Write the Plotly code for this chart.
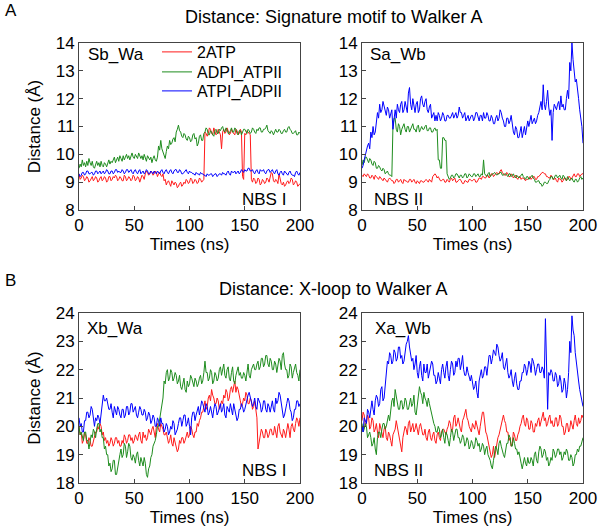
import plotly.graph_objects as go

# ---------------- data ----------------
times = list(range(0, 201))  # ns, 1 ns sampling

series_names = ["2ATP", "ADPI_ATPII", "ATPI_ADPII"]

# Panel A left: Sb_Wa
sbwa_2atp = [
    9.3, 9.1, 9.15, 9.25, 9.2, 9.05, 9.1, 9.2, 9.15, 9.0,
    9.05, 9.15, 9.2, 9.05, 9.1, 9.2, 9.15, 9.0, 9.05, 9.15,
    9.2, 9.05, 9.1, 9.2, 9.15, 9.0, 9.05, 9.2, 9.2, 9.05,
    9.1, 9.2, 9.15, 9.25, 9.2, 9.05, 9.1, 9.2, 9.15, 9.05,
    9.05, 9.25, 9.2, 9.05, 9.1, 9.2, 9.15, 9.05, 9.1, 9.25,
    9.2, 9.05, 9.1, 9.2, 9.15, 9.0, 9.1, 9.25, 9.2, 9.1,
    9.3, 9.4, 9.35, 9.25, 9.3, 9.4, 9.35, 9.25, 9.3, 9.4,
    9.35, 9.2, 9.3, 9.35, 9.25, 9.2, 9.3, 9.05, 9.1, 8.9,
    9.0, 9.05, 8.95, 8.85, 9.05, 8.95, 8.9, 9.0, 8.95, 8.8,
    8.85, 8.95, 9.0, 8.85, 8.9, 9.0, 8.95, 9.1, 9.05, 8.95,
    9.0, 9.15, 9.1, 8.95, 9.0, 9.1, 9.05, 8.95, 9.0, 9.15,
    9.1, 9.0, 9.05, 9.1, 10.8, 10.75, 10.65, 10.75, 10.95, 10.9,
    10.75, 10.7, 10.95, 10.85, 10.7, 10.75, 10.9, 10.8, 10.7, 10.2,
    10.8, 10.9, 10.75, 10.8, 10.95, 10.85, 10.7, 10.75, 10.9, 10.8,
    10.75, 10.7, 10.9, 10.85, 10.7, 10.75, 10.9, 10.8, 9.2, 9.1,
    10.75, 10.7, 10.85, 10.8, 10.75, 10.7, 9.1, 9.0, 9.15, 9.1,
    8.95, 9.0, 9.15, 9.1, 8.9, 8.95, 9.1, 9.05, 8.95, 9.0,
    9.15, 9.1, 9.0, 9.2, 9.35, 9.3, 9.05, 9.0, 9.1, 9.05,
    8.95, 9.3, 9.1, 8.95, 8.9, 9.0, 8.85, 8.9, 9.0, 9.05,
    8.95, 9.0, 9.15, 9.1, 8.9, 8.95, 9.05, 9.0, 8.85, 8.9,
    8.95]
sbwa_adpi = [
    9.5, 9.65, 9.55, 9.8, 9.6, 9.7, 9.55, 9.75, 9.6, 9.85,
    9.7, 9.6, 9.75, 9.55, 9.5, 9.65, 9.75, 9.6, 9.7, 9.55,
    9.75, 9.6, 9.55, 9.7, 9.65, 9.55, 9.7, 9.8, 9.65, 9.75,
    9.7, 9.85, 9.9, 9.7, 9.8, 9.9, 9.75, 9.95, 9.85, 9.75,
    9.95, 9.8, 9.9, 10.0, 9.85, 9.95, 9.8, 9.9, 10.05, 9.9,
    9.85, 10.0, 9.9, 9.85, 10.05, 9.95, 9.85, 9.95, 9.8, 10.0,
    9.85, 9.75, 9.95, 9.85, 9.8, 9.9, 9.7, 9.85, 9.95, 9.8,
    9.75, 9.9, 10.3, 10.15, 10.5, 10.2, 10.1, 9.95, 9.85, 10.1,
    10.3, 10.2, 10.5, 10.35, 10.4, 10.55, 10.6, 10.45, 10.8, 10.9,
    11.05, 10.85, 10.8, 10.65, 10.6, 10.75, 10.7, 10.55, 10.5, 10.65,
    10.6, 10.45, 10.5, 10.7, 10.75, 10.55, 10.6, 10.3, 10.4, 10.65,
    10.7, 10.5, 10.5, 10.75, 10.8, 10.95, 10.9, 10.7, 10.7, 10.85,
    10.8, 10.7, 10.65, 10.85, 10.9, 10.75, 10.75, 10.9, 10.85, 10.95,
    11.0, 10.85, 10.8, 10.95, 10.9, 10.75, 10.75, 10.85, 10.95, 10.8,
    10.8, 10.95, 10.9, 10.75, 10.7, 10.85, 10.85, 10.7, 10.8, 10.9,
    10.9, 10.8, 10.75, 10.9, 10.85, 10.75, 10.8, 10.95, 10.9, 10.8,
    10.75, 10.9, 10.85, 10.95, 10.95, 10.8, 10.8, 10.9, 10.9, 10.95,
    11.05, 10.85, 10.8, 10.75, 10.85, 10.8, 10.7, 10.85, 10.9, 10.8,
    10.8, 10.9, 10.85, 10.75, 10.75, 10.85, 10.9, 10.8, 10.8, 10.95,
    11.0, 10.9, 10.85, 10.75, 10.75, 10.8, 10.85, 10.7, 10.7, 10.8,
    10.75]
sbwa_atpi = [
    9.3, 9.2, 9.25, 9.35, 9.35, 9.25, 9.3, 9.4, 9.4, 9.3,
    9.3, 9.35, 9.35, 9.25, 9.3, 9.4, 9.4, 9.3, 9.35, 9.4,
    9.3, 9.35, 9.4, 9.3, 9.35, 9.45, 9.4, 9.3, 9.3, 9.4,
    9.4, 9.3, 9.35, 9.45, 9.45, 9.35, 9.4, 9.35, 9.35, 9.45,
    9.4, 9.3, 9.35, 9.45, 9.45, 9.35, 9.4, 9.45, 9.35, 9.3,
    9.4, 9.45, 9.35, 9.3, 9.4, 9.45, 9.3, 9.35, 9.4, 9.3,
    9.35, 9.45, 9.4, 9.3, 9.3, 9.4, 9.35, 9.3, 9.4, 9.35,
    9.3, 9.4, 9.35, 9.3, 9.4, 9.45, 9.35, 9.3, 9.4, 9.45,
    9.35, 9.3, 9.4, 9.45, 9.35, 9.3, 9.4, 9.45, 9.45, 9.35,
    9.35, 9.45, 9.4, 9.3, 9.3, 9.35, 9.4, 9.45, 9.35, 9.3,
    9.4, 9.35, 9.35, 9.3, 9.3, 9.25, 9.35, 9.3, 9.3, 9.25,
    9.35, 9.3, 9.3, 9.25, 9.25, 9.2, 9.3, 9.25, 9.25, 9.3,
    9.3, 9.2, 9.25, 9.3, 9.3, 9.2, 9.25, 9.3, 9.3, 9.25,
    9.35, 9.3, 9.3, 9.25, 9.35, 9.4, 9.3, 9.25, 9.4, 9.35,
    9.35, 9.4, 9.3, 9.35, 9.4, 9.3, 9.35, 9.45, 9.4, 9.35,
    9.45, 9.4, 9.4, 9.5, 9.5, 9.4, 9.4, 9.45, 9.35, 9.3,
    9.4, 9.45, 9.35, 9.3, 9.45, 9.4, 9.4, 9.45, 9.35, 9.3,
    9.4, 9.45, 9.45, 9.35, 9.4, 9.45, 9.35, 9.3, 9.4, 9.45,
    9.3, 9.25, 9.35, 9.4, 9.3, 9.25, 9.4, 9.35, 9.3, 9.25,
    9.35, 9.4, 9.3, 9.25, 9.25, 9.2, 9.35, 9.4, 9.3, 9.25,
    9.35]

# Panel A right: Sa_Wb
sawb_2atp = [
    9.25, 9.2, 9.3, 9.25, 9.2, 9.3, 9.25, 9.15, 9.15, 9.25,
    9.2, 9.1, 9.25, 9.2, 9.15, 9.1, 9.2, 9.15, 9.1, 9.05,
    9.15, 9.1, 9.05, 9.0, 9.1, 9.15, 9.1, 9.05, 9.05, 8.95,
    9.0, 9.1, 9.1, 9.0, 9.05, 9.1, 9.0, 8.95, 9.1, 9.05,
    9.05, 9.0, 9.0, 9.1, 9.1, 9.0, 9.05, 9.1, 9.0, 8.95,
    9.05, 9.0, 8.95, 9.05, 9.05, 9.0, 9.0, 9.05, 9.1, 9.05,
    9.0, 9.1, 9.05, 9.0, 9.2, 9.25, 9.3, 9.25, 9.15, 9.2,
    9.1, 9.05, 9.05, 9.1, 9.1, 9.0, 9.0, 9.1, 9.05, 9.0,
    9.1, 9.15, 9.05, 9.1, 9.15, 9.0, 9.0, 9.05, 9.1, 9.1,
    9.0, 8.95, 8.95, 9.05, 9.05, 9.0, 9.0, 9.1, 9.1, 9.05,
    9.05, 9.1, 9.1, 9.0, 9.0, 9.1, 9.15, 9.15, 9.1, 9.2,
    9.2, 9.15, 9.15, 9.25, 9.25, 9.15, 9.2, 9.3, 9.3, 9.2,
    9.25, 9.3, 9.35, 9.3, 9.3, 9.4, 9.45, 9.35, 9.3, 9.25,
    9.25, 9.35, 9.3, 9.2, 9.2, 9.3, 9.25, 9.15, 9.2, 9.25,
    9.15, 9.1, 9.2, 9.2, 9.1, 9.15, 9.15, 9.1, 9.05, 9.1,
    9.1, 9.15, 9.2, 9.1, 9.15, 9.2, 9.2, 9.1, 9.1, 9.2,
    9.2, 9.25, 9.3, 9.35, 9.35, 9.3, 9.3, 9.2, 9.2, 9.15,
    9.15, 9.25, 9.2, 9.1, 9.1, 9.15, 9.05, 9.0, 9.15, 9.1,
    9.1, 9.0, 9.05, 9.15, 9.15, 9.05, 9.1, 9.2, 9.2, 9.1,
    9.15, 9.25, 9.3, 9.2, 9.2, 9.3, 9.3, 9.2, 9.25, 9.3,
    9.3]
sawb_adpi = [
    9.6, 9.8, 9.7, 9.9, 9.9, 9.75, 9.7, 9.85, 9.8, 9.65,
    9.6, 9.75, 9.7, 9.5, 9.5, 9.6, 9.55, 9.45, 9.4, 9.5,
    9.45, 9.3, 9.35, 9.4, 9.3, 9.25, 9.25, 9.2, 11.0, 11.3,
    11.3, 10.9, 10.8, 11.1, 11.0, 10.7, 10.9, 11.0, 11.1, 10.9,
    10.8, 11.0, 11.0, 10.8, 10.9, 11.0, 11.1, 10.9, 10.9, 10.8,
    11.0, 11.05, 10.8, 10.9, 11.0, 10.9, 10.9, 11.0, 11.05, 10.85,
    10.85, 10.95, 10.95, 10.8, 10.8, 10.9, 10.95, 10.85, 10.9, 9.8,
    9.8, 9.5, 9.5, 10.6, 10.6, 10.5, 10.5, 9.3, 9.2, 9.1,
    9.15, 9.25, 9.25, 9.15, 9.2, 9.3, 9.3, 9.2, 9.15, 9.25,
    9.25, 9.15, 9.2, 9.3, 9.3, 9.15, 9.2, 9.3, 9.25, 9.2,
    9.2, 9.3, 9.3, 9.2, 9.25, 9.3, 9.2, 9.2, 9.3, 9.25,
    9.8, 9.3, 9.25, 9.2, 9.3, 9.35, 9.2, 9.25, 9.3, 9.3,
    9.35, 9.3, 9.25, 9.3, 9.3, 9.35, 9.35, 9.25, 9.25, 9.3,
    9.3, 9.25, 9.2, 9.3, 9.3, 9.2, 9.25, 9.3, 9.2, 9.15,
    9.25, 9.2, 9.15, 9.2, 9.25, 9.3, 9.2, 9.15, 9.1, 9.2,
    9.2, 9.1, 9.15, 9.2, 9.25, 9.15, 9.1, 9.0, 9.0, 9.05,
    9.05, 8.95, 8.95, 8.85, 8.9, 9.0, 9.0, 8.95, 8.95, 9.05,
    9.1, 9.2, 9.2, 9.1, 9.15, 9.25, 9.25, 9.15, 9.2, 9.25,
    9.15, 9.1, 9.25, 9.2, 9.1, 9.05, 9.2, 9.1, 9.05, 9.1,
    9.15, 9.05, 9.0, 9.1, 9.1, 9.0, 9.05, 9.15, 9.2, 9.1,
    9.15]
sawb_atpi = [
    9.5, 9.6, 9.8, 10.0, 10.1, 10.3, 10.4, 10.2, 10.8, 10.6,
    11.0, 10.7, 10.8, 11.2, 11.5, 11.3, 11.8, 11.5, 11.6, 11.9,
    11.7, 11.5, 11.4, 11.7, 11.6, 11.3, 11.5, 11.6, 10.9, 11.4,
    11.6, 11.3, 11.8, 11.6, 11.5, 11.8, 11.9, 11.5, 11.6, 11.9,
    11.7, 11.5, 12.2, 12.4, 11.8, 11.6, 12.0, 11.7, 11.5, 11.8,
    11.9, 11.5, 11.6, 12.0, 12.1, 11.8, 11.7, 11.9, 12.0, 11.6,
    11.5, 11.7, 11.8, 11.3, 11.4, 11.5, 11.2, 11.4, 11.2, 11.5,
    11.4, 11.2, 11.3, 11.5, 11.4, 11.2, 11.2, 11.4, 11.4, 11.3,
    11.3, 11.4, 11.5, 11.3, 11.4, 11.5, 11.3, 11.4, 11.7, 11.5,
    11.5, 11.3, 11.4, 11.5, 11.2, 11.3, 11.4, 11.2, 11.3, 11.4,
    11.4, 11.2, 11.3, 11.5, 11.5, 11.3, 11.2, 11.4, 11.4, 11.2,
    11.5, 11.3, 11.3, 11.5, 11.4, 11.2, 11.2, 11.4, 11.3, 11.1,
    11.1, 11.3, 11.4, 11.2, 11.3, 11.6, 11.5, 11.3, 11.2, 11.0,
    11.0, 11.3, 11.3, 11.1, 11.2, 11.4, 11.0, 10.8, 10.7, 11.0,
    10.9, 10.6, 10.6, 10.9, 11.0, 10.6, 10.8, 11.0, 10.7, 10.9,
    11.2, 11.0, 11.3, 11.4, 11.1, 11.2, 11.3, 11.1, 11.2, 11.4,
    11.5, 11.7, 11.9, 11.6, 12.5, 11.8, 11.6, 11.9, 12.3, 11.7,
    11.4, 11.6, 10.5, 11.5, 11.8, 11.7, 11.6, 11.8, 11.9, 11.6,
    12.1, 11.7, 11.8, 11.6, 11.6, 12.0, 12.3, 12.0, 13.3, 13.0,
    14.0, 13.4, 13.0, 12.6, 12.7, 12.2, 12.0, 11.6, 11.3, 11.0,
    10.4]

# Panel B left: Xb_Wa
xbwa_2atp = [
    20.0, 19.7, 19.8, 19.4, 19.5, 19.8, 19.7, 19.4, 19.4, 19.6,
    19.5, 19.3, 19.3, 19.5, 19.6, 19.8, 19.8, 20.0, 19.9, 20.1,
    20.0, 19.7, 19.8, 19.5, 19.6, 19.4, 19.5, 19.3, 19.4, 19.6,
    19.5, 19.3, 19.4, 19.6, 19.6, 19.4, 19.5, 19.3, 19.3, 19.5,
    19.4, 19.7, 19.6, 19.4, 19.5, 19.7, 19.7, 19.5, 19.6, 19.4,
    19.5, 19.7, 19.6, 19.5, 19.7, 19.8, 19.5, 19.4, 19.8, 19.6,
    19.7, 19.5, 19.6, 19.9, 19.8, 19.7, 19.9, 20.0, 19.8, 19.6,
    20.0, 20.1, 19.9, 19.8, 20.1, 20.0, 19.9, 19.7, 19.7, 19.8,
    19.6, 19.4, 19.5, 19.7, 19.4, 19.3, 19.6, 19.4, 19.3, 19.1,
    19.2, 19.5, 19.4, 19.6, 19.6, 19.4, 19.5, 19.7, 19.8, 19.6,
    19.7, 20.0, 19.9, 19.7, 19.6, 19.8, 19.8, 20.1, 20.0, 20.2,
    20.3, 20.5, 20.5, 20.7, 20.9, 20.6, 20.7, 21.0, 21.1, 20.9,
    21.3, 21.1, 21.0, 20.8, 20.8, 21.0, 20.9, 20.6, 20.7, 20.9,
    20.8, 21.1, 21.0, 21.3, 21.2, 20.9, 21.0, 21.3, 21.4, 21.2,
    21.5, 21.6, 21.2, 21.4, 21.3, 21.0, 20.9, 20.7, 20.8, 21.0,
    20.9, 21.2, 21.1, 20.8, 20.8, 21.0, 20.9, 20.6, 20.7, 20.9,
    20.5, 20.3, 19.2, 19.5, 19.7, 19.9, 19.8, 19.6, 19.6, 19.9,
    19.8, 19.6, 19.7, 19.9, 19.9, 19.7, 19.7, 20.0, 19.8, 19.6,
    20.0, 20.1, 19.8, 19.7, 19.6, 19.9, 19.8, 19.6, 19.9, 20.1,
    19.9, 19.6, 20.0, 20.1, 19.9, 19.8, 20.1, 20.3, 20.2, 20.0,
    20.3]
xbwa_adpi = [
    20.0, 19.7, 19.8, 19.6, 19.5, 19.8, 19.8, 19.5, 19.5, 19.2,
    19.4, 19.7, 19.6, 19.9, 19.8, 19.6, 19.9, 20.1, 20.1, 19.8,
    19.9, 19.6, 19.6, 19.2, 19.3, 19.0, 19.0, 18.6, 18.7, 18.4,
    18.5, 18.8, 18.8, 18.3, 18.3, 18.6, 18.7, 19.0, 19.2, 18.9,
    19.0, 19.4, 19.3, 18.9, 19.1, 19.4, 19.3, 18.9, 18.8, 19.0,
    18.9, 18.7, 19.0, 19.1, 18.8, 18.6, 18.9, 18.7, 18.6, 18.9,
    18.7, 18.3, 18.2, 18.5, 18.6, 18.9, 19.0, 19.3, 19.4, 19.5,
    19.7, 20.0, 20.0, 20.3, 20.4, 20.9, 21.0, 21.6, 21.5, 21.9,
    22.0, 21.6, 21.7, 22.0, 21.9, 21.6, 21.7, 21.9, 21.8, 21.5,
    21.6, 21.8, 21.4, 21.3, 21.5, 21.7, 21.3, 21.2, 21.6, 21.4,
    21.5, 21.8, 21.7, 21.5, 21.4, 21.7, 21.6, 21.4, 21.5, 21.7,
    21.8, 21.5, 21.6, 21.9, 22.3, 21.9, 21.9, 21.6, 21.7, 22.0,
    21.9, 21.5, 21.6, 21.9, 21.8, 21.6, 21.7, 22.0, 22.1, 21.8,
    22.0, 22.2, 21.8, 21.7, 22.0, 22.1, 21.7, 21.6, 21.9, 22.1,
    21.6, 21.5, 21.8, 22.0, 22.1, 21.8, 21.9, 21.7, 21.7, 21.9,
    21.8, 21.6, 22.0, 22.2, 21.8, 21.7, 22.0, 22.1, 22.2, 22.0,
    22.0, 22.2, 22.3, 22.0, 22.1, 22.4, 22.4, 22.1, 22.2, 22.5,
    22.5, 22.2, 22.1, 22.4, 22.3, 22.0, 22.0, 22.3, 22.2, 21.9,
    22.1, 22.4, 22.3, 22.0, 22.5, 22.6, 22.2, 22.0, 22.0, 21.7,
    21.8, 22.2, 22.1, 21.7, 21.9, 22.1, 22.2, 21.9, 21.8, 21.6,
    22.0]
xbwa_atpi = [
    20.3, 20.0, 20.1, 19.8, 19.8, 20.2, 20.2, 20.5, 20.5, 20.3,
    20.4, 20.7, 20.6, 20.2, 20.0, 20.3, 20.2, 20.4, 20.3, 20.1,
    20.5, 20.8, 21.1, 20.9, 20.9, 21.0, 20.8, 20.6, 20.6, 20.8,
    20.5, 20.3, 20.7, 20.5, 20.4, 20.7, 20.6, 20.4, 20.3, 20.6,
    20.6, 20.3, 20.4, 20.7, 20.7, 20.4, 20.5, 20.8, 20.8, 20.5,
    20.6, 20.7, 20.4, 20.3, 20.5, 20.7, 20.6, 20.4, 20.4, 20.6,
    20.5, 20.2, 20.3, 20.5, 20.4, 20.1, 20.2, 20.4, 20.3, 20.0,
    20.0, 20.3, 20.2, 20.0, 20.3, 20.1, 20.1, 19.8, 19.9, 20.1,
    20.0, 19.7, 19.8, 20.0, 19.9, 20.2, 20.1, 19.7, 19.8, 19.9,
    20.1, 20.3, 20.3, 20.0, 20.2, 20.4, 20.4, 20.0, 20.1, 20.3,
    20.0, 19.7, 20.3, 20.5, 20.5, 20.2, 20.4, 20.6, 20.7, 20.4,
    20.6, 20.9, 20.8, 20.6, 20.5, 20.8, 20.7, 20.4, 20.5, 20.7,
    20.4, 20.3, 20.6, 20.8, 20.7, 20.4, 20.5, 20.7, 20.8, 20.5,
    20.6, 20.8, 20.4, 20.3, 20.7, 20.6, 20.5, 20.8, 20.6, 20.4,
    20.8, 20.6, 20.5, 20.2, 20.3, 20.6, 20.6, 20.8, 20.7, 20.5,
    20.6, 20.8, 20.9, 21.1, 21.2, 21.0, 20.9, 20.7, 20.8, 21.0,
    20.7, 20.6, 21.0, 20.9, 20.8, 20.5, 20.6, 20.9, 20.9, 20.6,
    20.5, 20.8, 20.7, 20.5, 20.8, 20.9, 20.6, 20.5, 21.0, 20.8,
    20.9, 21.2, 21.1, 20.8, 20.6, 20.3, 20.4, 20.7, 20.8, 21.0,
    20.9, 20.6, 20.5, 20.2, 20.3, 20.6, 20.6, 20.9, 20.9, 20.7,
    20.8]

# Panel B right: Xa_Wb
xawb_2atp = [
    20.2, 20.5, 20.4, 20.0, 20.1, 20.4, 20.3, 19.9, 20.0, 20.3,
    20.2, 19.8, 19.9, 20.1, 19.8, 19.6, 20.1, 19.9, 19.7, 19.6,
    19.9, 20.0, 19.6, 19.5, 19.8, 19.7, 19.5, 19.3, 19.7, 19.8,
    19.9, 20.2, 20.0, 19.7, 19.6, 19.4, 19.1, 19.6, 19.8, 20.0,
    19.9, 19.7, 20.1, 20.2, 19.8, 20.0, 20.1, 19.8, 19.9, 20.1,
    19.8, 19.7, 20.0, 20.1, 19.9, 19.7, 19.7, 19.9, 19.6, 19.5,
    19.8, 19.9, 19.6, 19.5, 19.7, 19.8, 19.5, 19.4, 19.7, 19.8,
    19.6, 19.5, 19.8, 19.9, 19.9, 19.8, 19.7, 19.9, 20.0, 20.2,
    20.1, 19.8, 19.9, 20.3, 20.4, 20.0, 20.1, 20.3, 20.0, 19.9,
    19.8, 20.2, 20.3, 20.5, 20.6, 20.3, 20.2, 20.0, 19.9, 19.8,
    20.1, 20.0, 19.9, 20.2, 20.0, 19.8, 19.7, 20.0, 20.2, 20.5,
    20.5, 20.1, 19.8, 19.7, 19.5, 19.3, 19.2, 18.9, 19.0, 19.3,
    18.9, 19.2, 19.3, 19.6, 19.7, 19.9, 20.0, 20.3, 20.4, 20.2,
    20.1, 19.8, 19.8, 19.5, 19.6, 19.3, 19.4, 19.8, 19.7, 19.5,
    19.5, 19.7, 19.8, 20.0, 20.1, 20.3, 20.4, 20.1, 20.0, 20.3,
    20.2, 19.9, 19.9, 20.2, 20.1, 19.8, 19.8, 20.1, 20.0, 20.2,
    20.3, 20.0, 20.2, 20.4, 20.5, 20.2, 20.3, 20.0, 20.1, 20.3,
    20.4, 20.1, 20.2, 20.0, 20.0, 20.3, 20.3, 20.0, 20.1, 20.4,
    20.3, 20.0, 20.0, 19.7, 19.8, 20.1, 20.1, 19.8, 19.9, 20.2,
    20.0, 19.9, 20.2, 20.4, 20.1, 20.0, 20.3, 20.1, 20.2, 20.4,
    20.3]
xawb_adpi = [
    20.1, 19.8, 19.9, 20.1, 20.0, 19.6, 19.7, 19.8, 19.6, 19.3,
    19.4, 19.6, 19.2, 19.0, 19.6, 19.8, 19.8, 19.6, 19.9, 20.1,
    20.1, 19.9, 20.0, 20.3, 20.4, 20.2, 20.6, 20.9, 21.0, 20.7,
    21.3, 21.1, 20.8, 20.6, 20.6, 20.9, 20.9, 20.6, 20.7, 21.0,
    20.9, 20.6, 20.6, 20.9, 21.0, 20.7, 20.8, 21.1, 20.5, 20.4,
    20.7, 21.0, 21.4, 21.2, 21.1, 20.8, 21.2, 21.0, 20.9, 20.7,
    21.0, 20.8, 20.6, 20.4, 20.3, 20.1, 20.0, 19.8, 19.8, 20.0,
    19.9, 19.6, 19.7, 19.9, 19.6, 19.4, 19.8, 19.7, 19.5, 19.3,
    19.6, 19.9, 19.8, 19.5, 19.7, 19.9, 19.9, 19.6, 19.6, 19.4,
    19.5, 19.7, 19.6, 19.3, 19.4, 19.6, 19.5, 19.2, 19.3, 19.5,
    19.4, 19.2, 19.3, 19.6, 19.5, 19.3, 19.4, 19.1, 19.2, 19.4,
    19.3, 19.0, 19.2, 19.3, 19.0, 18.9, 18.8, 18.6, 18.5, 18.8,
    19.0, 19.3, 19.2, 19.0, 19.4, 19.5, 19.3, 19.1, 19.0, 18.9,
    19.2, 19.4, 19.4, 19.7, 19.6, 19.3, 19.3, 19.6, 19.4, 19.2,
    19.2, 19.0, 19.1, 18.8, 18.7, 18.5, 18.8, 18.9, 18.7, 18.6,
    18.9, 18.7, 18.7, 18.9, 18.8, 18.6, 19.0, 19.1, 18.8, 18.7,
    19.1, 19.3, 19.2, 18.9, 19.0, 19.2, 19.1, 18.8, 18.9, 18.6,
    18.7, 18.9, 18.8, 19.2, 19.1, 18.9, 19.0, 19.2, 19.2, 19.0,
    19.1, 18.8, 18.9, 19.1, 19.0, 19.2, 19.1, 18.8, 18.8, 19.0,
    18.9, 18.6, 18.7, 19.0, 19.0, 19.2, 19.1, 19.3, 19.3, 19.5,
    19.6]
xawb_atpi = [
    20.0, 19.8, 20.3, 20.2, 20.1, 20.6, 20.5, 20.3, 20.7, 20.9,
    20.6, 20.4, 20.9, 21.1, 21.0, 20.7, 20.8, 21.3, 21.4, 20.9,
    21.0, 21.5, 21.8, 22.3, 22.2, 22.6, 22.5, 22.2, 22.3, 22.7,
    22.6, 22.3, 22.4, 22.8, 22.8, 22.4, 22.5, 22.2, 22.3, 22.7,
    22.9, 23.0, 23.2, 22.8, 22.6, 22.3, 22.4, 22.0, 22.2, 22.5,
    21.9, 21.7, 22.1, 22.3, 21.8, 21.6, 22.2, 21.9, 21.9, 22.2,
    21.7, 21.9, 22.0, 22.3, 22.2, 21.8, 21.8, 21.5, 21.6, 21.9,
    21.7, 21.5, 22.0, 22.2, 21.9, 21.7, 22.1, 22.3, 21.8, 21.6,
    22.0, 22.3, 22.2, 21.8, 21.9, 22.3, 22.1, 22.4, 22.4, 22.0,
    22.2, 22.5, 22.0, 21.8, 21.8, 22.1, 21.9, 21.7, 21.6, 21.8,
    21.5, 21.3, 21.4, 21.6, 21.2, 21.0, 21.6, 21.8, 22.0, 21.7,
    21.8, 22.1, 22.1, 21.8, 22.3, 22.5, 22.5, 22.2, 22.4, 22.7,
    22.6, 22.5, 22.9, 22.8, 22.5, 22.3, 22.4, 22.6, 22.1, 22.0,
    22.2, 22.4, 21.9, 21.7, 21.8, 22.0, 21.6, 21.4, 21.7, 21.9,
    21.5, 21.3, 21.3, 21.6, 21.6, 21.9, 21.9, 22.2, 22.1, 21.8,
    22.0, 22.3, 22.2, 21.9, 22.4, 22.3, 22.1, 21.8, 22.0, 22.2,
    22.2, 21.9, 21.9, 22.1, 22.0, 21.7, 23.8, 21.6, 20.6, 21.9,
    21.8, 22.0, 21.9, 21.6, 21.6, 21.9, 21.8, 21.4, 21.5, 21.8,
    21.6, 21.2, 21.3, 21.7, 21.5, 21.0, 21.3, 21.9, 23.0, 22.6,
    23.9, 23.4, 23.2, 22.6, 22.2, 21.8, 21.6, 21.3, 21.1, 20.8,
    20.7]

panel_titles = ["Distance: Signature motif to Walker A", "Distance: X-loop to Walker A"]
panel_letters = ["A", "B"]
site_labels = ["Sb_Wa", "Sa_Wb", "Xb_Wa", "Xa_Wb"]
nbs_labels = ["NBS I", "NBS II", "NBS I", "NBS II"]
x_ticks = [0, 50, 100, 150, 200]
y_ticks_top = [8, 9, 10, 11, 12, 13, 14]
y_ticks_bottom = [18, 19, 20, 21, 22, 23, 24]

colors = ["#ff1a1a", "#1e8c1e", "#0000ff"]

panels = [
    (sbwa_2atp, sbwa_adpi, sbwa_atpi),
    (sawb_2atp, sawb_adpi, sawb_atpi),
    (xbwa_2atp, xbwa_adpi, xbwa_atpi),
    (xawb_2atp, xawb_adpi, xawb_atpi),
]
for pi, data in enumerate(panels):
    for si, ys in enumerate(data):
        if len(ys) != len(times):
            raise ValueError(f"panel {pi} series {si} has {len(ys)} values")

# ---------------- figure ----------------
W, H = 600, 531
FONT = "Liberation Sans, Arial, sans-serif"


def px_x(p):
    return p / W


def px_y(p):
    return 1 - p / H


fig = go.Figure()
axis_ids = ["", "2", "3", "4"]
legend_ids = ["legend", "legend2", "legend3"]

for i, data in enumerate(panels):
    for j, ys in enumerate(data):
        fig.add_trace(go.Scatter(
            x=times, y=ys, mode="lines", name=series_names[j],
            line=dict(color=colors[j], width=1),
            xaxis="x" + axis_ids[i], yaxis="y" + axis_ids[i],
            showlegend=(i == 0), legend=legend_ids[j],
        ))

x_dom_left = [px_x(79), px_x(300)]
x_dom_right = [px_x(362), px_x(583)]
y_dom_top = [px_y(210), px_y(43)]
y_dom_bottom = [px_y(483), px_y(313)]

AX_COLOR = "#444"


def xaxis(domain, anchor):
    return dict(domain=domain, anchor=anchor, range=[0, 200], tickvals=x_ticks,
                ticks="inside", ticklen=4, tickcolor=AX_COLOR, showline=True, mirror=True,
                linecolor=AX_COLOR, linewidth=1, showgrid=False, zeroline=False,
                automargin=False,
                tickfont=dict(size=17, color="black", family=FONT),
                title=dict(text="Times (ns)", font=dict(size=17, color="black", family=FONT), standoff=2))


def yaxis(domain, anchor, rng, ticks, title):
    d = dict(domain=domain, anchor=anchor, range=rng, tickvals=ticks,
             ticks="inside", ticklen=4, tickcolor=AX_COLOR, showline=True, mirror=True,
             linecolor=AX_COLOR, linewidth=1, showgrid=False, zeroline=False,
             automargin=False,
             tickfont=dict(size=17, color="black", family=FONT))
    if title:
        d["title"] = dict(text="Distance (Å)", font=dict(size=17, color="black", family=FONT), standoff=10)
    return d


def legend_at(ypx):
    return dict(x=px_x(157), y=px_y(ypx), xanchor="left", yanchor="middle",
                bgcolor="rgba(0,0,0,0)", font=dict(size=16, family=FONT, color="black"),
                itemwidth=30)


fig.update_layout(
    width=W, height=H,
    margin=dict(l=0, r=0, t=0, b=0),
    paper_bgcolor="white", plot_bgcolor="white",
    font=dict(family=FONT, color="black"),
    xaxis=xaxis(x_dom_left, "y"),
    yaxis=yaxis(y_dom_top, "x", [8, 14], y_ticks_top, True),
    xaxis2=xaxis(x_dom_right, "y2"),
    yaxis2=yaxis(y_dom_top, "x2", [8, 14], y_ticks_top, False),
    xaxis3=xaxis(x_dom_left, "y3"),
    yaxis3=yaxis(y_dom_bottom, "x3", [18, 24], y_ticks_bottom, True),
    xaxis4=xaxis(x_dom_right, "y4"),
    yaxis4=yaxis(y_dom_bottom, "x4", [18, 24], y_ticks_bottom, False),
    legend=legend_at(52),
    legend2=legend_at(72),
    legend3=legend_at(91),
    showlegend=True,
)

ann = []
ann.append(dict(text=panel_letters[0], x=px_x(3), y=px_y(11), xanchor="left", yanchor="middle"))
ann.append(dict(text=panel_letters[1], x=px_x(3), y=px_y(280), xanchor="left", yanchor="middle"))
ann.append(dict(text=panel_titles[0], x=px_x(333), y=px_y(17), xanchor="center", yanchor="middle",
                font=dict(size=18)))
ann.append(dict(text=panel_titles[1], x=px_x(333), y=px_y(289), xanchor="center", yanchor="middle",
                font=dict(size=18)))
site_pos = [(86, 55), (368, 55), (85, 328), (373, 328)]
for lab, (xp, yp) in zip(site_labels, site_pos):
    ann.append(dict(text=lab, x=px_x(xp), y=px_y(yp), xanchor="left", yanchor="middle"))
nbs_pos = [(288, 200, "right"), (372, 200, "left"), (288, 470, "right"), (372, 470, "left")]
for lab, (xp, yp, anc) in zip(nbs_labels, nbs_pos):
    ann.append(dict(text=lab, x=px_x(xp), y=px_y(yp), xanchor=anc, yanchor="middle"))

for a in ann:
    f = dict(size=17, family=FONT, color="black")
    f.update(a.get("font", {}))
    a.update(xref="paper", yref="paper", showarrow=False, font=f)
fig.update_layout(annotations=ann)

# Remove the browser's default 8 px body margin so the 600x531 figure fills the window.
fig.write_html("out.html", config={"displayModeBar": False},
               post_script="document.body.style.margin='0';")
